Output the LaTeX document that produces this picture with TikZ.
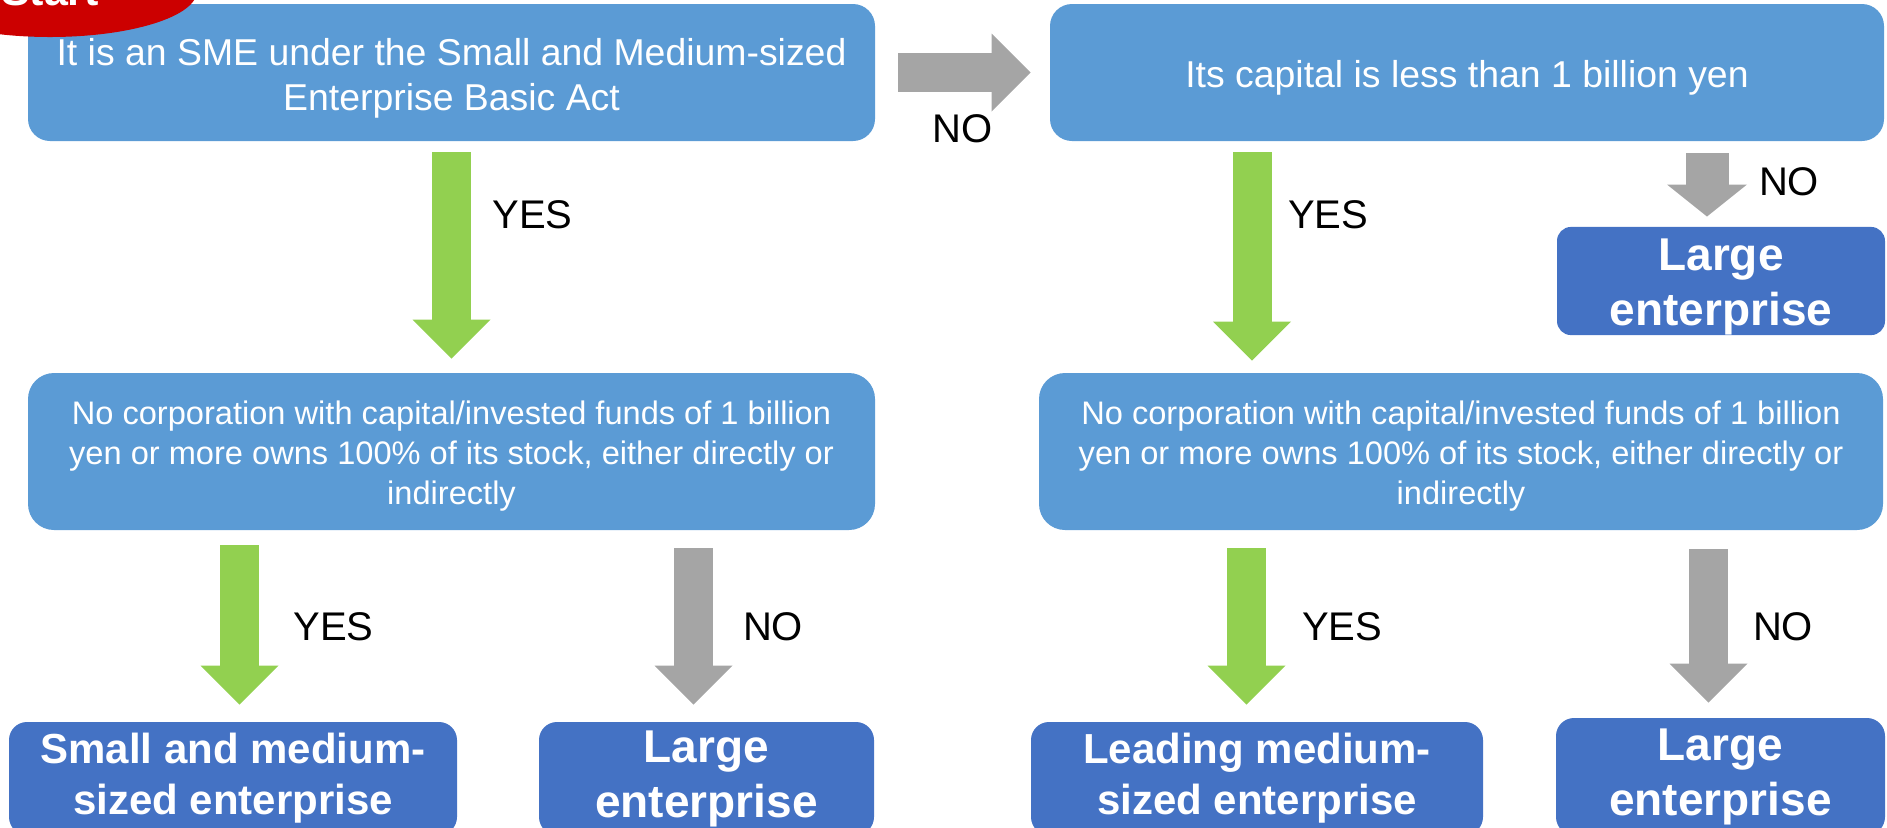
\documentclass[tikz,border=0pt]{standalone}
\usepackage{fontspec}
\setmainfont{Liberation Sans}
\usetikzlibrary{arrows.meta,shapes.geometric}

\definecolor{boxblue}{RGB}{91,155,213}
\definecolor{endblue}{RGB}{68,114,196}
\definecolor{yesgreen}{RGB}{146,208,80}
\definecolor{nogray}{RGB}{165,165,165}
\definecolor{startred}{RGB}{204,0,0}

% invisible strut that pushes the first line down
\newcommand{\padtop}[1]{\rule{0pt}{#1}}

\begin{document}
\begin{tikzpicture}[x=0.5pt,y=-0.5pt,
  question/.style={fill=boxblue, text=white, rounded corners=11pt, align=center, inner sep=0pt,
    font=\fontsize{18.7}{22.4}\selectfont},
  owner/.style={fill=boxblue, text=white, rounded corners=13pt, align=center, inner sep=0pt,
    font=\fontsize{16.3}{20}\selectfont},
  result/.style={fill=endblue, text=white, rounded corners=9pt, align=center, inner sep=0pt,
    font=\bfseries\fontsize{21}{25.5}\selectfont},
  resultbig/.style={result, font=\bfseries\fontsize{23}{27.5}\selectfont},
  startmark/.style={ellipse, fill=startred, text=white, inner sep=0pt,
    minimum width=147pt, minimum height=46pt, font=\bfseries\fontsize{21.5}{25}\selectfont},
  yesarr/.style={draw=yesgreen, line width=19.5pt, -{Triangle[width=39pt,length=19.5pt,line width=0pt]}},
  noarr/.style={draw=nogray, line width=19.5pt, -{Triangle[width=39pt,length=19.5pt,line width=0pt]}},
  lbl/.style={inner sep=0pt, outer sep=0pt, text=black, font=\fontsize{20}{24}\selectfont}]
\useasboundingbox (0,0) rectangle (1887,827);

% questions
\node[question, minimum width=423.5pt, minimum height=68.5pt] (sme) at (451.5,72.5)
  {\padtop{19.6pt}It is an SME under the Small and Medium-sized\\Enterprise Basic Act};
\node[question, minimum width=417pt, minimum height=68.5pt] (cap) at (1467,72.5)
  {\padtop{18.6pt}Its capital is less than 1 billion yen};
\node[owner, minimum width=423.5pt, minimum height=78.5pt] (own1) at (451.5,451.5)
  {\padtop{16.5pt}No corporation with capital/invested funds of 1 billion\\yen or more owns 100\% of its stock, either directly or\\indirectly};
\node[owner, minimum width=422pt, minimum height=78.5pt] (own2) at (1461,451.5)
  {\padtop{16.5pt}No corporation with capital/invested funds of 1 billion\\yen or more owns 100\% of its stock, either directly or\\indirectly};

% results
\node[resultbig, rounded corners=7pt, minimum width=164pt, minimum height=54pt] (large0) at (1721,281) {\padtop{21.8pt}Large\\enterprise};
\node[result, minimum width=224pt, minimum height=56.5pt] (small) at (233,778.5) {Small and medium-\\sized enterprise};
\node[resultbig, minimum width=167.5pt, minimum height=56.5pt] (large1) at (706.5,778.5) {Large\\enterprise};
\node[result, minimum width=226pt, minimum height=56.5pt] (leading) at (1257,778.5) {Leading medium-\\sized enterprise};
\node[resultbig, minimum width=164.5pt, minimum height=58.5pt] (large2) at (1720.5,776.5) {Large\\enterprise};

\node[startmark] (start) at (50,-9) {Start};

% arrows
\draw[noarr, shorten <=11.5pt, shorten >=9.5pt] (sme) to node[lbl, below=21.25pt] {NO} (cap);
\draw[yesarr, shorten <=5.5pt, shorten >=7pt] (sme) to node[lbl, pos=0.315, right=20.5pt] {YES} (own1);
\draw[yesarr, shorten <=5.5pt, shorten >=6pt] ([xshift=-107.5pt]cap.south) to node[lbl, pos=0.315, right=18pt] {YES} ([xshift=-104.5pt]own2.north);
\draw[noarr, line width=21.5pt, -{Triangle[width=40pt,length=16pt,line width=0pt]}, shorten <=6pt, shorten >=5pt]
  ([xshift=120pt]cap.south) to node[lbl, pos=0.477, right=26pt] {NO} ([xshift=-7pt]large0.north);

\draw[yesarr, shorten <=7.5pt, shorten >=8.5pt] ([xshift=-106pt]own1.south) to node[lbl, pos=0.505, right=27pt] {YES} ([xshift=3.25pt]small.north);
\draw[noarr, shorten <=9pt, shorten >=8.5pt] ([xshift=121pt]own1.south) to node[lbl, pos=0.505, right=24.75pt] {NO} ([xshift=-6.5pt]large1.north);
\draw[yesarr, shorten <=9pt, shorten >=8.5pt] ([xshift=-107.25pt]own2.south) to node[lbl, pos=0.505, right=27.75pt] {YES} ([xshift=-5.25pt]leading.north);
\draw[noarr, shorten <=9.5pt, shorten >=7.5pt] ([xshift=123.75pt]own2.south) to node[lbl, pos=0.516, right=22.25pt] {NO} ([xshift=-6pt]large2.north);
\end{tikzpicture}
\end{document}
